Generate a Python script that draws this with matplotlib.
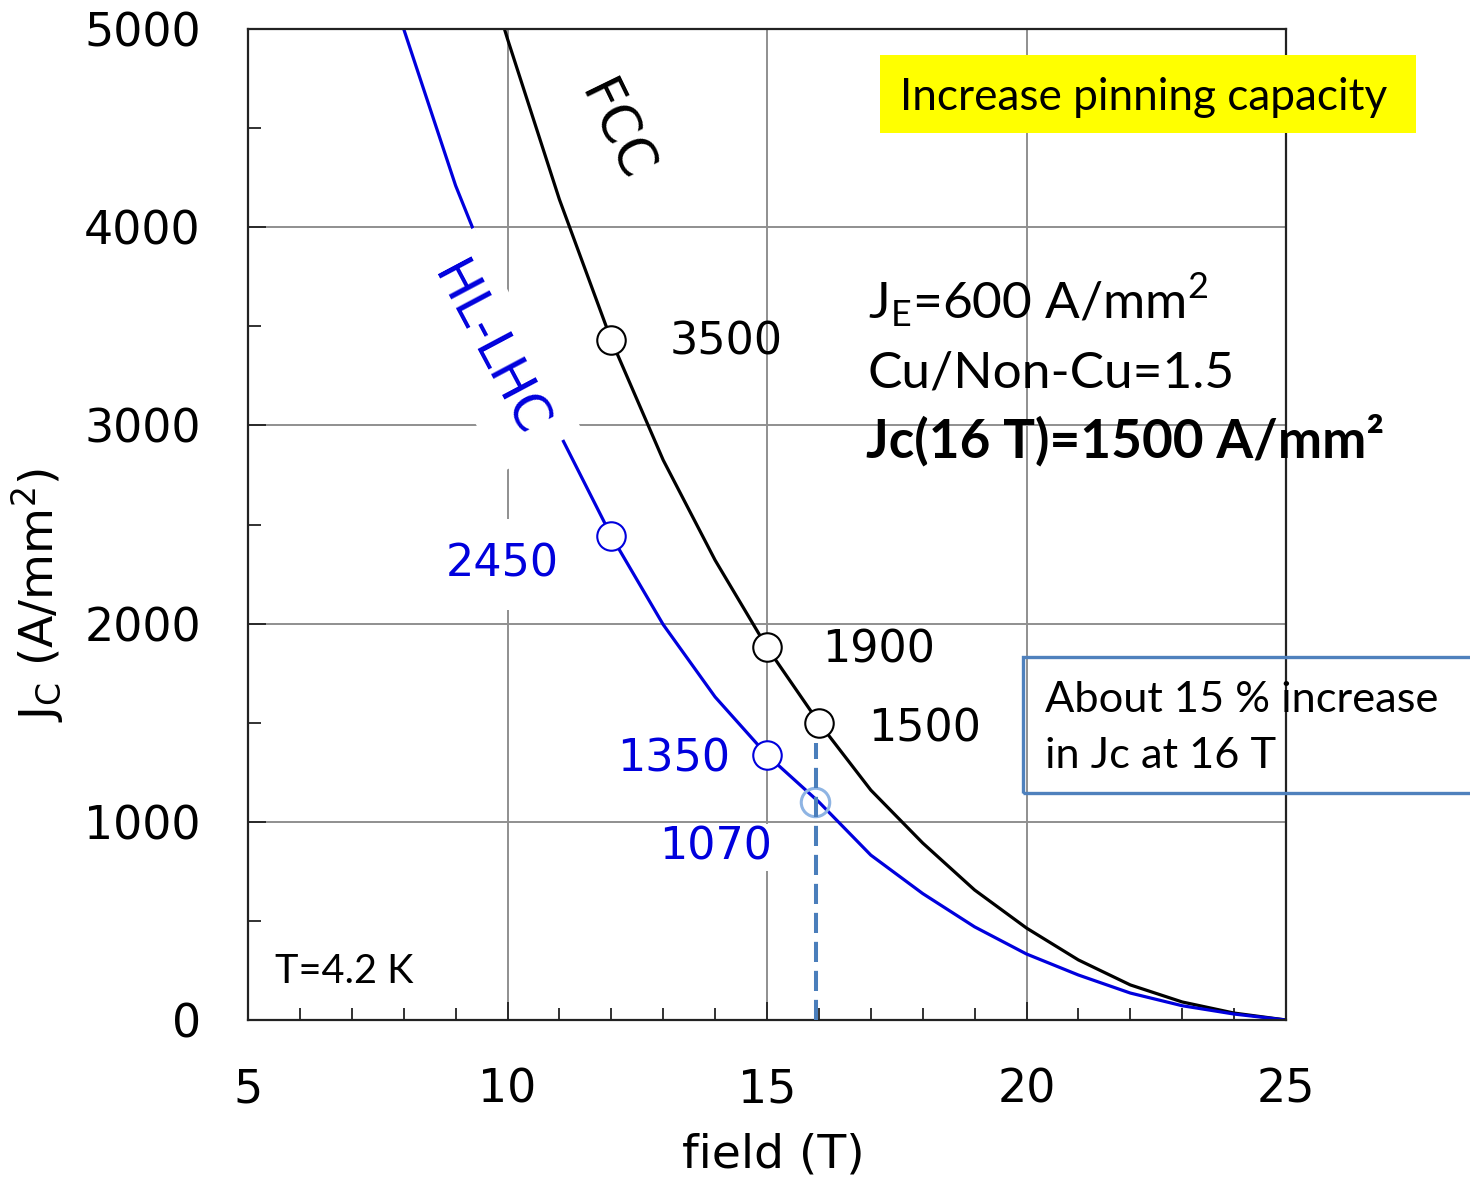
import matplotlib
matplotlib.use("Agg")
import matplotlib.pyplot as plt
import matplotlib.patches as patches
import numpy as np

# ---------------- data ----------------
field_fcc = [9, 10, 11, 12, 13, 14, 15, 16, 17, 18, 19, 20, 21, 22, 23, 24, 25]
jc_fcc = [5800, 4950, 4140, 3430, 2825, 2320, 1880, 1500, 1160, 893, 656, 464, 303, 177, 91, 35, 0]

field_hl = [8, 9, 10, 11, 12, 13, 14, 15, 16, 17, 18, 19, 20, 21, 22, 23, 24, 25]
jc_hl = [5000, 4210, 3560, 2960, 2442, 1995, 1630, 1337, 1100, 832, 638, 470, 333, 227, 136, 72, 30, 0]

fcc_mark_x = [12, 15, 16]
fcc_mark_y = [3430, 1880, 1500]
fcc_mark_lbl = ["3500", "1900", "1500"]

hl_mark_x = [12, 15]
hl_mark_y = [2442, 1337]
hl_mark_lbl = ["2450", "1350"]

hl16_x = [15.93]
hl16_y = [1100]
hl16_lbl = "1070"

xticks = [5, 10, 15, 20, 25]
yticks = [0, 1000, 2000, 3000, 4000, 5000]

# ---------------- figure ----------------
W, H = 1470, 1181
fig = plt.figure(figsize=(W / 100, H / 100), dpi=100)
ax = fig.add_axes([248 / W, 1 - 1020 / H, (1286 - 248) / W, (1020 - 29) / H])

def fx(px):
    return px / W

def fy(py):
    return 1 - py / H

def dx(px):
    return 5 + (px - 248) / 51.9

def dy(py):
    return (1020 - py) / 0.1982

ax.set_xlim(5, 25)
ax.set_ylim(0, 5000)
ax.set_xticks(xticks)
ax.set_yticks(yticks)
ax.set_xticks(np.arange(5, 26, 1), minor=True)
ax.set_yticks(np.arange(0, 5001, 500), minor=True)
ax.tick_params(which="both", direction="in", colors="#222222", width=1.3)
ax.tick_params(which="major", length=13)
ax.tick_params(which="minor", length=9)
ax.tick_params(axis="x", which="major", pad=34, labelsize=33, labelcolor="black")
ax.tick_params(axis="y", which="major", pad=34, labelsize=33, labelcolor="black")
for s in ax.spines.values():
    s.set_linewidth(1.6)
    s.set_color("#222222")

ax.set_axisbelow(True)
ax.grid(True, which="major", color="#8f8f8f", linewidth=1.4)

ax.set_xlabel("field (T)", fontsize=34, va="top")
ax.xaxis.set_label_coords((773 - 248) / 1038, -(1133 - 1020) / 991)
ax.set_ylabel(r"J$_\mathregular{C}$ (A/mm$^\mathregular{2}$)", fontsize=34)
ax.yaxis.set_label_coords(-(248 - 66) / 1038, (1020 - 595) / 991)

# curves
ax.plot(field_fcc, jc_fcc, color="black", lw=2.3, zorder=2)
ax.plot(field_hl, jc_hl, color="#0000dd", lw=2.3, zorder=2)

# markers
ax.plot(fcc_mark_x, fcc_mark_y, "o", ms=20.5, mfc="white", mec="black", mew=1.5, zorder=3, ls="none")
ax.plot(hl_mark_x, hl_mark_y, "o", ms=20.5, mfc="white", mec="#0000dd", mew=1.5, zorder=3, ls="none")
ax.plot(hl16_x, hl16_y, "o", ms=20.5, mfc="none", mec="#8eb4e3", mew=2.2, zorder=3, ls="none")

# dashed line at 16 T
ax.plot([15.95, 15.95], [0, 1400], color="#4a7ebb", lw=2.9, dashes=(5.0, 2.2), zorder=3)

# value labels
num_fs = 32
fcc_lbl_pos = [(670, 355), (822, 663), (868, 742)]
for (px, py), t in zip(fcc_lbl_pos, fcc_mark_lbl):
    ax.text(dx(px), dy(py), t, fontsize=num_fs, color="black", ha="left", va="baseline", zorder=4)
ax.text(dx(446), dy(577), hl_mark_lbl[0], fontsize=num_fs, color="#0000dd", ha="left",
        va="baseline", zorder=4,
        bbox=dict(boxstyle="square,pad=0.55", fc="white", ec="none"))
ax.text(dx(617), dy(772), hl_mark_lbl[1], fontsize=num_fs, color="#0000dd", ha="left",
        va="baseline", zorder=4)
ax.text(dx(659), dy(860), hl16_lbl, fontsize=num_fs, color="#0000dd", ha="left",
        va="baseline", zorder=4,
        bbox=dict(boxstyle="square,pad=0.05", fc="white", ec="none"))

# curve names
ax.text(dx(615), dy(132), "FCC", fontsize=38, color="black", rotation=-64,
        ha="center", va="center", zorder=4)
ax.text(dx(488), dy(350), "HL-LHC", fontsize=37, color="#0000dd", rotation=-62,
        ha="center", va="center", zorder=4,
        bbox=dict(boxstyle="square,pad=0.4", fc="white", ec="none"))

# annotations (Calibri-like)
afont = "Lato"
fig.patches.append(patches.Rectangle((fx(880), fy(133)), fx(1416) - fx(880), fy(55) - fy(133),
                                     transform=fig.transFigure, fc="#ffff00", ec="none", zorder=5))
fig.text(fx(900), fy(110), "Increase pinning capacity", fontsize=31.8, family=afont,
         ha="left", va="baseline", zorder=6)

fig.text(fx(868), fy(319), r"J$_\mathregular{E}$=600 A/mm$^\mathregular{2}$", fontsize=37,
         family=afont, ha="left", va="baseline", zorder=6)
fig.text(fx(868), fy(388), "Cu/Non-Cu=1.5", fontsize=37, family=afont,
         ha="left", va="baseline", zorder=6)
fig.text(fx(866), fy(458), "Jc(16 T)=1500 A/mm\u00b2", fontsize=38.2, family=afont,
         fontweight="bold", ha="left", va="baseline", zorder=6)

fig.patches.append(patches.Rectangle((fx(1023), fy(793)), fx(1490) - fx(1023), fy(657) - fy(793),
                                     transform=fig.transFigure, fc="none", ec="#4f81bd",
                                     lw=2.4, zorder=5, clip_on=False))
fig.text(fx(1045), fy(712), "About 15 % increase", fontsize=31.2, family=afont,
         ha="left", va="baseline", zorder=6)
fig.text(fx(1045), fy(768), "in Jc at 16 T", fontsize=31.2, family=afont,
         ha="left", va="baseline", zorder=6)

fig.text(fx(275), fy(983), "T=4.2 K", fontsize=28.5, family=afont,
         ha="left", va="baseline", zorder=6)

fig.savefig("out.png", dpi=100)
